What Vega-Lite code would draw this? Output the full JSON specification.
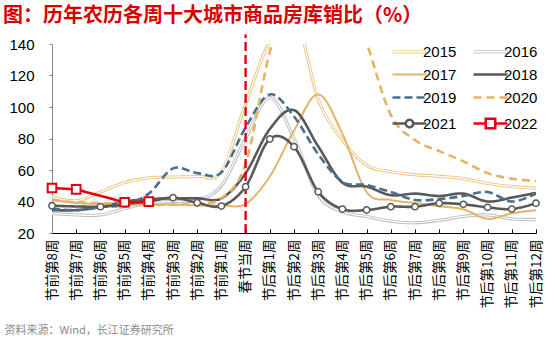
{
  "$schema": "https://vega.github.io/schema/vega-lite/v6.json",
  "width": 484,
  "height": 189,
  "autosize": {"type": "none"},
  "padding": {"left": 52, "top": 44, "right": 19, "bottom": 111},
  "background": "white",
  "title": {
    "text": "图：历年农历各周十大城市商品房库销比（%）",
    "anchor": "start",
    "frame": "group",
    "dx": -49,
    "dy": 21,
    "offset": 12,
    "fontSize": 20,
    "font": "Noto Sans CJK SC",
    "fontWeight": "bold",
    "color": "#D90000",
    "baseline": "alphabetic"
  },
  "data": {
    "values": [
      {"week": "节前第8周", "2015": 43, "2016": 32.5, "2017": 41, "2018": 34.5, "2019": 35.5, "2020": 41, "2021": 37.3, "2022": 48.6},
      {"week": "节前第7周", "2015": 40.5, "2016": 31.5, "2017": 39, "2018": 34.5, "2019": 34.5, "2020": 39.5, "2021": null, "2022": 47.7},
      {"week": "节前第6周", "2015": 46, "2016": 31.5, "2017": 38.5, "2018": 36.5, "2019": 36.5, "2020": 39, "2021": 36.7, "2022": null},
      {"week": "节前第5周", "2015": 52, "2016": 35.5, "2017": 38, "2018": 40, "2019": 38, "2020": 38.5, "2021": 38.5, "2022": 39.5},
      {"week": "节前第4周", "2015": 55, "2016": 39, "2017": 38, "2018": 41.5, "2019": 45, "2020": 38, "2021": 40, "2022": 39.9},
      {"week": "节前第3周", "2015": 55.5, "2016": 40, "2017": 38, "2018": 42, "2019": 61, "2020": 38, "2021": 42.4, "2022": null},
      {"week": "节前第2周", "2015": 56, "2016": 41, "2017": 37.5, "2018": 42, "2019": 58, "2020": 38.5, "2021": 39.2, "2022": null},
      {"week": "节前第1周", "2015": 59, "2016": 50, "2017": 37.5, "2018": 42, "2019": 58.5, "2020": 42, "2021": 37.1, "2022": null},
      {"week": "春节当周", "2015": 102, "2016": 80, "2017": 38.5, "2018": 58, "2019": 87, "2020": 64, "2021": 49.4, "2022": null},
      {"week": "节后第1周", "2015": 142, "2016": 106, "2017": 56, "2018": 86, "2019": 108, "2020": 135, "2021": 79.7, "2022": null},
      {"week": "节后第2周", "2015": 160, "2016": 80, "2017": 85, "2018": 98, "2019": 94, "2020": 180, "2021": 74.8, "2022": null},
      {"week": "节后第3周", "2015": 105, "2016": 44, "2017": 108, "2018": 75, "2019": 70, "2020": 200, "2021": 46.2, "2022": null},
      {"week": "节后第4周", "2015": 79, "2016": 33.5, "2017": 83, "2018": 52, "2019": 52.5, "2020": 185, "2021": 35.2, "2022": null},
      {"week": "节后第5周", "2015": 63, "2016": 30.5, "2017": 46, "2018": 49.5, "2019": 50.5, "2020": 141, "2021": 34.6, "2022": null},
      {"week": "节后第6周", "2015": 59, "2016": 27.5, "2017": 41, "2018": 44, "2019": 46, "2020": 95, "2021": 36.7, "2022": null},
      {"week": "节后第7周", "2015": 57, "2016": 26.5, "2017": 39, "2018": 45, "2019": 41, "2020": 79, "2021": 36.7, "2022": null},
      {"week": "节后第8周", "2015": 56, "2016": 28, "2017": 37, "2018": 43.5, "2019": 41.5, "2020": 72, "2021": 38.9, "2022": null},
      {"week": "节后第9周", "2015": 54.5, "2016": 30.5, "2017": 35, "2018": 45, "2019": 43.5, "2020": 65.5, "2021": 38.2, "2022": null},
      {"week": "节后第10周", "2015": 51.5, "2016": 31.5, "2017": 29, "2018": 40, "2019": 46, "2020": 58, "2021": 36.3, "2022": null},
      {"week": "节后第11周", "2015": 49.5, "2016": 29, "2017": 32.5, "2018": 42.5, "2019": 40, "2020": 54.5, "2021": 35.2, "2022": null},
      {"week": "节后第12周", "2015": 48.5, "2016": 28.5, "2017": 34.5, "2018": 45.5, "2019": 45, "2020": 53, "2021": 38.9, "2022": null}
    ]
  },
  "transform": [
    {"fold": ["2015", "2016", "2017", "2018", "2019", "2020", "2021", "2022"], "as": ["year", "value"]},
    {"filter": "isValid(datum.value)"}
  ],
  "encoding": {
    "x": {
      "field": "week",
      "type": "ordinal",
      "sort": null,
      "scale": {"type": "point", "padding": 0, "domain": ["节前第8周", "节前第7周", "节前第6周", "节前第5周", "节前第4周", "节前第3周", "节前第2周", "节前第1周", "春节当周", "节后第1周", "节后第2周", "节后第3周", "节后第4周", "节后第5周", "节后第6周", "节后第7周", "节后第8周", "节后第9周", "节后第10周", "节后第11周", "节后第12周"]},
      "axis": {
        "title": "资料来源：Wind，长江证券研究所",
        "titleX": -48,
        "titleY": 97,
        "titleAlign": "left",
        "titleAnchor": null,
        "titleBaseline": "middle",
        "titleFontSize": 11,
        "titleFontWeight": "normal",
        "titleColor": "#8C8C8C",
        "titleFont": "Noto Sans CJK SC",
        "labelAngle": 270,
        "labelAlign": "right",
        "labelBaseline": "middle",
        "labelFontSize": 13.5,
        "labelFont": "Noto Sans CJK SC",
        "labelColor": "black",
        "labelOverlap": false,
        "labelPadding": 10,
        "tickSize": -4,
        "tickColor": "black",
        "domainColor": "black",
        "grid": false
      }
    },
    "y": {
      "field": "value",
      "type": "quantitative",
      "scale": {"domain": [20, 140], "nice": false, "zero": false},
      "axis": {
        "title": null,
        "values": [20, 40, 60, 80, 100, 120, 140],
        "labelFontSize": 15,
        "labelFont": "Liberation Sans",
        "labelColor": "black",
        "tickSize": 3,
        "tickColor": "#888888",
        "domainColor": "#888888",
        "labelPadding": 15,
        "grid": false
      }
    }
  },
  "layer": [
    {
      "transform": [{"filter": "datum.year == '2015' || datum.year == '2016'"}],
      "mark": {"type": "line", "interpolate": "cardinal", "clip": true, "strokeWidth": 3.2},
      "encoding": {
        "color": {"field": "year", "type": "nominal", "scale": {"domain": ["2015", "2016", "2017", "2018", "2019", "2020", "2021", "2022"], "range": ["#EDC687", "#BDBDBD", "#E3B463", "#595959", "#48708E", "#E3B463", "#595959", "#E60012"]}},
        "strokeDash": {"field": "year", "type": "nominal", "scale": {"domain": ["2015", "2016", "2017", "2018", "2019", "2020", "2021", "2022"], "range": [[1, 0], [1, 0], [1, 0], [1, 0], [8, 4], [8, 5], [1, 0], [1, 0]]}}
      }
    },
    {
      "transform": [{"filter": "datum.year == '2015' || datum.year == '2016'"}],
      "mark": {"type": "line", "interpolate": "cardinal", "clip": true, "strokeWidth": 1.2, "color": "white"},
      "encoding": {"detail": {"field": "year"}}
    },
    {
      "transform": [{"filter": "datum.year != '2015' && datum.year != '2016' && datum.year != '2022'"}],
      "mark": {"type": "line", "interpolate": "cardinal", "clip": true},
      "encoding": {
        "color": {"field": "year", "type": "nominal", "legend": {
          "orient": "none",
          "legendX": 350,
          "legendY": 0,
          "direction": "horizontal",
          "columns": 2,
          "title": null,
          "symbolType": "stroke",
          "symbolSize": 1156,
          "labelFontSize": 15,
          "labelFont": "Liberation Sans",
          "labelColor": "black",
          "labelOffset": 6,
          "rowPadding": 7,
          "columnPadding": 11,
          "padding": 0,
          "encode": {
            "symbols": {
              "update": {
                "shape": {"signal": "datum.value == '2021' ? 'M-1,0H-0.22M0.22,0H1M0.22,0A0.22,0.22 0 1,1 -0.22,0A0.22,0.22 0 1,1 0.22,0' : datum.value == '2022' ? 'M-1,0H-0.28M0.28,0H1M-0.28,-0.28H0.28V0.28H-0.28Z' : (datum.value == '2015' || datum.value == '2016') ? 'M-1,-0.07H1M-1,0.07H1' : 'stroke'"},
                "fill": {"signal": "(datum.value == '2021' || datum.value == '2022') ? 'white' : 'transparent'"},
                "strokeWidth": {"signal": "(datum.value == '2015' || datum.value == '2016') ? 1 : datum.value == '2017' ? 2 : 2.5"}
              }
            }
          }
        }},
        "strokeDash": {"field": "year", "type": "nominal"},
        "strokeWidth": {"condition": {"test": "datum.year == '2017'", "value": 2}, "value": 2.6}
      }
    },
    {
      "transform": [{"filter": "datum.year == '2022'"}],
      "mark": {"type": "line", "strokeWidth": 2.6},
      "encoding": {
        "color": {"field": "year", "type": "nominal"},
        "strokeDash": {"field": "year", "type": "nominal"}
      }
    },
    {
      "data": {"values": [{"week": "春节当周", "lo": 20, "hi": 146}]},
      "transform": [],
      "mark": {"type": "rule", "color": "#E60012", "strokeWidth": 2.4, "strokeDash": [9, 4]},
      "encoding": {
        "x": {"field": "week", "type": "ordinal"},
        "y": {"field": "lo", "type": "quantitative"},
        "y2": {"field": "hi"}
      }
    },
    {
      "transform": [{"filter": "datum.year == '2021'"}],
      "mark": {"type": "point", "shape": "circle", "filled": true, "fill": "white", "stroke": "#595959", "strokeWidth": 1.5, "size": 40, "opacity": 1}
    },
    {
      "transform": [{"filter": "datum.year == '2022'"}],
      "mark": {"type": "point", "shape": "square", "filled": true, "fill": "white", "stroke": "#E60012", "strokeWidth": 2, "size": 75, "opacity": 1}
    }
  ],
  "config": {
    "view": {"stroke": null},
    "font": "Liberation Sans"
  }
}
